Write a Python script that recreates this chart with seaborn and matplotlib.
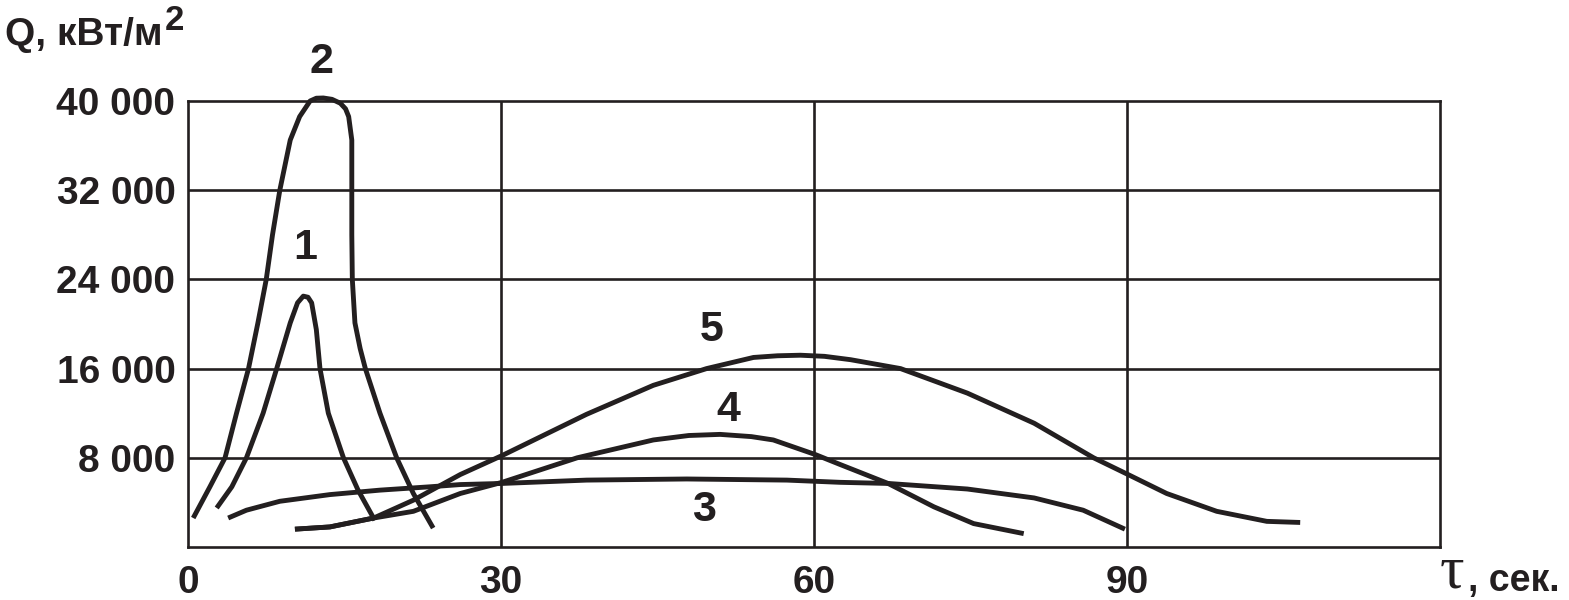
import numpy as np
import pandas as pd
import matplotlib
matplotlib.use("Agg")
import matplotlib.pyplot as plt
import seaborn as sns
from matplotlib.ticker import FixedLocator, FuncFormatter

# curves: tau, s  /  Q, kW/m2
T1 = [2.75, 4.2, 5.6, 7.2, 8.5, 9.8, 10.5, 11.05, 11.5, 11.85, 12.3, 12.65, 13.45, 14.9, 16.3, 17.9]
Q1 = [3500, 5400, 8000, 12000, 16000, 20100, 21900, 22500, 22400, 21900, 19500, 16000, 12000,
      8000, 5100, 2400]

T2 = [0.5, 2.1, 3.55, 4.65, 5.8, 6.7, 7.5, 8.1, 8.8, 9.8, 10.7, 11.7, 12.3, 12.97, 13.8, 14.6,
      15.1, 15.4, 15.7, 15.7, 15.7, 15.75, 16.0, 16.5, 17.0, 18.4, 20.0, 21.6, 23.5]
Q2 = [2600, 5400, 8000, 12000, 16000, 20100, 24000, 28000, 32000, 36500, 38600, 40000, 40250,
      40270, 40150, 39800, 39300, 38600, 36500, 32000, 28000, 24000, 20100, 17800, 16000, 12000,
      8000, 4800, 1700]

T3 = [3.85, 5.6, 8.8, 13.6, 18.4, 23.2, 26.1, 30.1, 38.2, 47.8, 57.4, 62.5, 67.1, 74.7, 81.1,
      85.8, 89.8]
Q3 = [2600, 3300, 4100, 4700, 5100, 5400, 5600, 5700, 6000, 6100, 6000, 5800, 5700, 5200, 4400,
      3300, 1600]

T4 = [10.25, 13.6, 17.8, 21.6, 26.1, 30.1, 37.3, 44.6, 48.0, 51.0, 54.0, 56.1, 60.1, 62.5, 67.1,
      71.5, 75.3, 80.1]
Q4 = [1600, 1800, 2600, 3200, 4800, 5800, 8000, 9600, 10000, 10100, 9900, 9600, 8300, 7400, 5700,
      3600, 2100, 1200]

T5 = [10.25, 13.6, 17.8, 21.6, 26.1, 30.1, 38.2, 44.6, 49.7, 54.2, 56.5, 58.7, 61.0, 63.5, 68.3,
      74.7, 81.1, 86.8, 90.1, 93.8, 98.6, 103.4, 106.6]
Q5 = [1600, 1800, 2600, 4200, 6500, 8200, 11900, 14500, 16000, 17000, 17150, 17200, 17100, 16800,
      16000, 13800, 11100, 8000, 6500, 4800, 3200, 2300, 2200]

CURVE_LABELS = ["1", "2", "3", "4", "5"]
LABEL_T = [11.2, 12.8, 49.5, 51.8, 50.2]
LABEL_Q = [26800, 43500, 3300, 12300, 19500]

X_TICKS = [0, 30, 60, 90]
Y_TICKS = [8000, 16000, 24000, 32000, 40000]
X_GRID = [30, 60, 90]
Y_GRID = [8000, 16000, 24000, 32000]

INK = "#231f20"
W, H = 1569, 600

sns.set_style("white")
plt.rcParams["font.family"] = ["Liberation Sans", "DejaVu Sans"]
plt.rcParams["font.weight"] = "bold"

curves = {"1": (T1, Q1), "2": (T2, Q2), "3": (T3, Q3), "4": (T4, Q4), "5": (T5, Q5)}
frames = []
for name, (t, q) in curves.items():
    frames.append(pd.DataFrame({"curve": name, "t": t, "Q": q}))
df = pd.concat(frames, ignore_index=True)

fig = plt.figure(figsize=(W / 100, H / 100), dpi=100)
ax = fig.add_axes([188 / W, 1 - 547 / H, (1440 - 188) / W, (547 - 101) / H])

# grid first so the curves sit on top
for x in X_GRID:
    ax.axvline(x, color=INK, lw=1.9, zorder=1)
for y in Y_GRID:
    ax.axhline(y, color=INK, lw=1.9, zorder=1)

sns.lineplot(data=df, x="t", y="Q", units="curve", estimator=None, sort=False,
             color=INK, lw=3.5, ax=ax, zorder=3, legend=False)
for line in ax.get_lines():
    line.set_clip_on(False)
    line.set_solid_capstyle("butt")
    line.set_solid_joinstyle("round")

for lab, t, q in zip(CURVE_LABELS, LABEL_T, LABEL_Q):
    ax.text(t, q, lab, ha="center", va="center", fontsize=31, fontweight="bold", color=INK)

ax.set_xlim(0, 120)
ax.set_ylim(0, 40000)
ax.xaxis.set_major_locator(FixedLocator(X_TICKS))
ax.yaxis.set_major_locator(FixedLocator(Y_TICKS))
ax.yaxis.set_major_formatter(FuncFormatter(lambda v, p: f"{int(v):,}".replace(",", " ")))
ax.tick_params(length=0, labelsize=28, labelcolor=INK)
ax.tick_params(axis="x", pad=13)
ax.tick_params(axis="y", pad=9)
for lbl in ax.get_xticklabels() + ax.get_yticklabels():
    lbl.set_fontweight("bold")
ax.set_xlabel("")
ax.set_ylabel("")
for s in ax.spines.values():
    s.set_color(INK)
    s.set_linewidth(1.9)
    s.set_visible(True)

# axis titles
qt = fig.text(5 / W, 1 - 45 / H, "Q, кВт/м", fontsize=28, fontweight="bold",
              color=INK, va="baseline", ha="left")
fig.canvas.draw()
bb = qt.get_window_extent()
fig.text((bb.x1 + 2) / W, 1 - 30 / H, "2", fontsize=25, fontweight="bold", color=INK,
         va="baseline", ha="left")
fig.text(1440 / W, 1 - 587 / H, "τ", family=["Liberation Serif", "DejaVu Serif"],
         fontsize=44, fontweight="normal", color=INK, va="baseline", ha="left")
fig.text(1468 / W, 1 - 591 / H, ", сек.", fontsize=27, fontweight="bold",
         color=INK, va="baseline", ha="left")

fig.savefig("out.png", dpi=100, facecolor="white")
plt.close(fig)
